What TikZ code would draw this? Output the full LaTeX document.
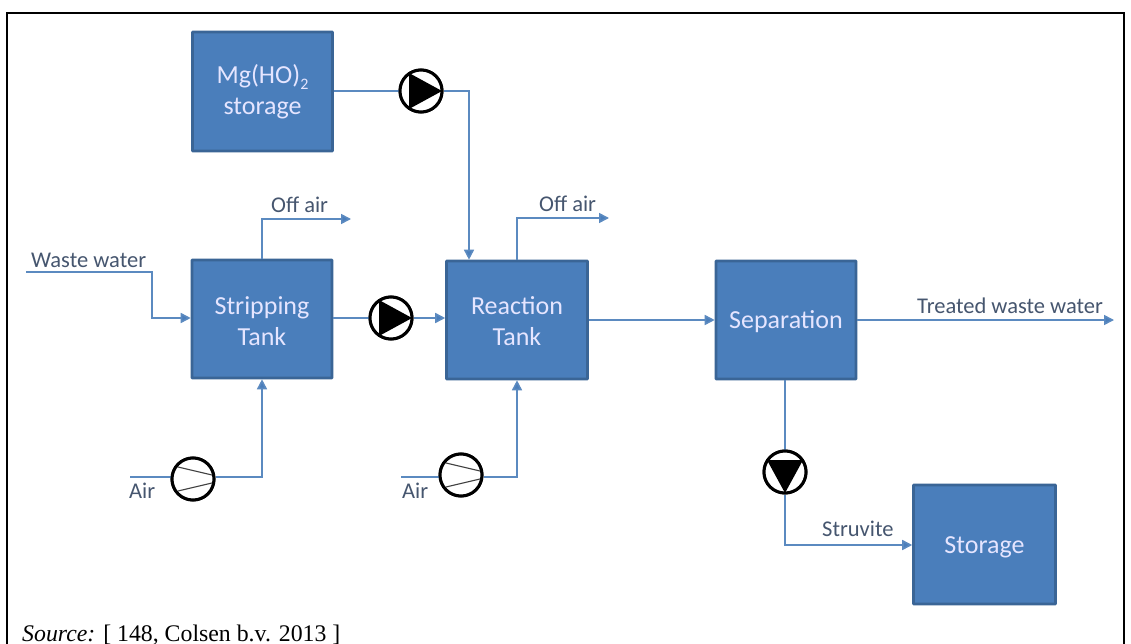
\documentclass[tikz,border=0pt]{standalone}
\usepackage{fontspec}
\setmainfont{Carlito}
\newfontfamily\timesf{Liberation Serif}
\usetikzlibrary{arrows.meta,calc}
\definecolor{boxfill}{HTML}{4A7EBB}
\definecolor{boxedge}{HTML}{3A6596}
\definecolor{pipe}{HTML}{5B8AC0}
\definecolor{labelc}{HTML}{46566F}
\tikzset{
  x=1pt,y=-1pt,
  tank/.style={draw=boxedge,line width=2.6pt,fill=boxfill,inner sep=0pt,rounded corners=0.5pt},
  tanktext/.style={text=white!90!blue,font=\fontsize{26}{31}\selectfont,align=center,inner sep=0pt},
  flow/.style={draw=pipe,line width=1.6pt,line join=miter},
  arrowed/.style={flow,-{Triangle[length=10pt,width=10pt,fill=boxfill]}},
  tag/.style={text=labelc,font=\fontsize{22.5}{26}\selectfont,inner sep=0pt,anchor=base west},
  pumpc/.style={circle,draw=black,line width=3pt,fill=white,minimum size=42pt,inner sep=0pt},
}
\newcommand{\mktank}[7]{\node[tank,minimum width=#4 pt,minimum height=#5 pt] (#1) at (#2,#3) {};
  \node[tanktext] (#1t) at ($(#1)+(0,#6)$) {#7};}
\begin{document}
\begin{tikzpicture}
\useasboundingbox (0,0) rectangle (1131,644);
\fill[white] (0,0) rectangle (1131,644);
\coordinate (fa) at (7,644); \coordinate (fb) at (7,13); \coordinate (fc) at (1124,13); \coordinate (fd) at (1124,644);
\draw[black,line width=2pt] (fa) -- (fb) -- (fc) -- (fd);
% tanks
\mktank{mg}{262.5}{91.5}{140}{119}{0}{Mg(HO)\raisebox{-0.25em}{\fontsize{16}{16}\selectfont 2}\\storage}
\mktank{strip}{262}{319}{140}{118}{2.5}{Stripping\\Tank}
\mktank{react}{517}{320}{141}{118}{1.5}{Reaction\\Tank}
\mktank{sep}{786}{320}{140}{118}{1.5}{Separation}
\mktank{store}{984.5}{544.5}{142}{119}{2.5}{Storage}
% pumps
\node[pumpc] (p1) at (421,91) {};
\node[pumpc] (p2) at (391,318) {};
\node[pumpc] (p3) at (785,472) {};
\node[pumpc] (c1) at (193,479) {};
\node[pumpc] (c2) at (461,475) {};
% free ends
\coordinate (wwin) at (26,272); \coordinate (wwa) at (152,272); \coordinate (wwb) at (152,318);
\coordinate (offa1) at (262,219); \coordinate (offa2) at (351,219);
\coordinate (offb1) at (517,218); \coordinate (offb2) at (609,218);
\coordinate (mgc) at (469,91);
\coordinate (air1) at (130,477); \coordinate (air1b) at (262,477);
\coordinate (air2) at (401,477); \coordinate (air2b) at (517,477);
\coordinate (treated) at (1114,320);
\coordinate (strv) at (785,545);
% connectors
\draw[flow] (mg.east |- p1) -- (p1);
\draw[arrowed] (p1.east) -- (mgc) -- (mgc |- react.north);
\draw[arrowed] (wwin) -- (wwa) -- (wwb) -- (strip.west |- wwb);
\draw[arrowed] (strip.north) -- (offa1) -- (offa2);
\draw[arrowed] (react.north) -- (offb1) -- (offb2);
\draw[flow] (strip.east |- p2) -- (p2);
\draw[arrowed] (p2) -- (react.west |- p2);
\draw[arrowed] (react.east) -- (sep.west);
\draw[arrowed] (sep.east) -- (treated);
\draw[flow] (air1) -- (air1 -| c1);
\draw[arrowed] (c1.east |- air1b) -- (air1b) -- (strip.south);
\draw[flow] (air2) -- (air2 -| c2);
\draw[arrowed] (c2.east |- air2b) -- (air2b) -- (react.south);
\draw[flow] (sep.south -| p3) -- (p3);
\draw[arrowed] (p3) -- (strv) -- (store.west |- strv);
% redraw pump bodies over their pipes
\foreach \n in {p1,p2,p3,c1,c2} \node[pumpc] at (\n) {};
% pump symbols
\foreach \n in {p1,p2} \fill[black] ($(\n)+(-12,-18)$) -- ($(\n)+(21,0)$) -- ($(\n)+(-12,18)$) -- cycle;
\fill[black] ($(p3)+(-18,-12)$) -- ($(p3)+(0,21)$) -- ($(p3)+(18,-12)$) -- cycle;
\foreach \n in {c1,c2} {
  \draw[black!75,line width=1.1pt] ($(\n)+(-15,-12)$) -- ($(\n)+(19,-4)$);
  \draw[black!75,line width=1.1pt] ($(\n)+(-15,12)$) -- ($(\n)+(19,4)$);
}
% labels
\node[tag] (l1) at (31,267) {Waste water};
\node[tag] (l2) at (271,213) {Off air};
\node[tag] (l3) at (539,212) {Off air};
\node[tag] (l4) at (917,313) {Treated waste water};
\node[tag] (l5) at (129,498) {Air};
\node[tag] (l6) at (402,498) {Air};
\node[tag] (l7) at (822,536) {Struvite};
\node[inner sep=0pt,anchor=base west,font=\timesf\fontsize{23.8}{28}\selectfont] (src) at (22,641) {\textit{Source:} [ 148, Colsen b.v. 2013 ]};
\end{tikzpicture}
\end{document}
